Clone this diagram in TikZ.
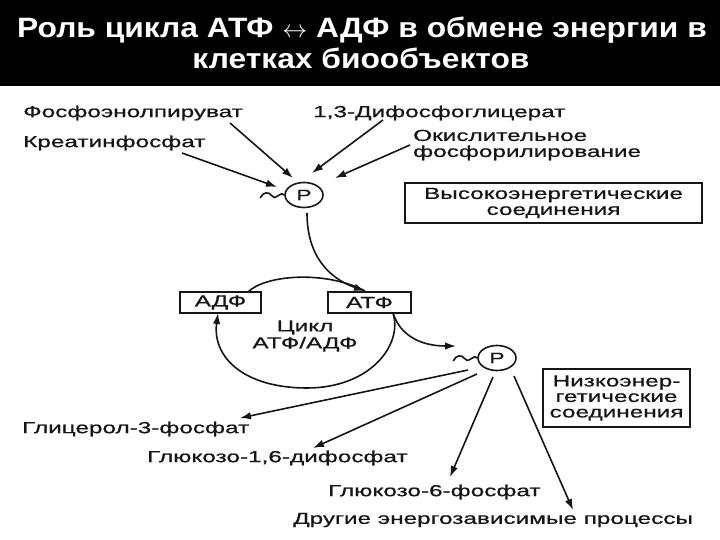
\documentclass[tikz,border=0pt]{standalone}
\usepackage{fontspec}
\setmainfont{Liberation Sans}[FakeStretch=1.52,FakeBold=0.8]
\newfontfamily\titlefont{Liberation Sans}[FakeStretch=1.135]
\usetikzlibrary{arrows.meta,shapes.geometric}
\definecolor{ink}{HTML}{161616}
\begin{document}
\begin{tikzpicture}[x=1pt,y=-1pt,
  lbl/.style={font=\fontsize{16}{16}\selectfont, text=ink, inner sep=0pt, anchor=west, align=left},
  box/.style={draw=ink, line width=1.6pt, inner sep=0pt, font=\fontsize{16}{16}\selectfont, text=ink, align=center},
  phos/.style={ellipse, draw=ink, line width=1.6pt, minimum width=38pt, minimum height=25pt, inner sep=0pt, font=\fontsize{15}{15}\selectfont, text=ink},
  conn/.style={draw=ink, line width=1.6pt, -{Latex[length=11pt,width=7.5pt]}},
  plain/.style={draw=ink, line width=1.6pt},
  ttl/.style={text=white, font=\titlefont\bfseries\fontsize{28}{31}\selectfont, anchor=base, inner sep=0pt}]
\useasboundingbox (0,0) rectangle (720,540);
\fill[white] (0,0) rectangle (720,540);
\fill[black] (0,0) rectangle (720,86);
\node[ttl] (t1) at (362,38) {Роль цикла АТФ $\leftrightarrow$ АДФ в обмене энергии в};
\node[ttl] (t2) at (361,69) {клетках биообъектов};

% top labels
\node[lbl] (fep) at (23,113) {Фосфоэнолпируват};
\node[lbl] (kf) at (23,143) {Креатинфосфат};
\node[lbl] (dfg) at (313,113) {1,3-Дифосфоглицерат};
\node[lbl] (ox) at (413,145) {Окислительное\\фосфорилирование};
\node[box, minimum width=297pt, minimum height=40pt] (hi) at (553.5,203) {Высокоэнергетические\\соединения};

\node[phos] (topP) at (304,195) {P};
\draw[plain] (topP.west) .. controls +(-3,-5) and +(4,5) .. ++(-12,1) .. controls +(-4,-5) and +(3,-6) .. ++(-12,2);

\coordinate (fepS) at (230,123); \coordinate (fepE) at (293,178);
\coordinate (dfgS) at (383,120); \coordinate (dfgE) at (312,173);
\coordinate (kfS) at (182,153);  \coordinate (kfE) at (277,187);
\coordinate (oxS) at (410,145);  \coordinate (oxE) at (335,178);
\draw[conn] (fepS) -- (fepE);
\draw[conn] (dfgS) -- (dfgE);
\draw[conn] (kfS) -- (kfE);
\draw[conn] (oxS) -- (oxE);

% cycle
\node[box, minimum width=81pt, minimum height=21pt] (adf) at (220.5,302.5) {АДФ};
\node[box, minimum width=83pt, minimum height=21pt] (atf) at (369.5,302.5) {АТФ};
\node[lbl, anchor=center, align=center, font=\fontsize{16}{17}\selectfont] (cyc) at (305,336) {Цикл\\АТФ/АДФ};

\coordinate (pTop) at (307,213);
\coordinate (atfIn) at (365,291);
\coordinate (adfOut) at (248,292);
\coordinate (atfOut) at (393,313);
\coordinate (adfIn) at (218,313);
\draw[plain] (adfOut) .. controls (265,275) and (325,270) .. (atfIn);
\draw[conn] (pTop) .. controls (307,255) and (328,278) .. (atfIn);
\draw[conn] (atfOut) .. controls (403,345) and (370,388) .. (307,388) .. controls (245,388) and (212,358) .. (adfIn);

% low P
\node[phos] (lowP) at (497,358) {P};
\draw[plain] (lowP.west) .. controls +(-3,-5) and +(4,5) .. ++(-12,1) .. controls +(-4,-5) and +(3,-6) .. ++(-12,2);
\coordinate (tilIn) at (456,346);
\draw[conn] (atfOut) .. controls (400,335) and (420,346) .. (tilIn);

\node[box, minimum width=147pt, minimum height=58pt, font=\fontsize{16}{15.5}\selectfont] (lo) at (616.5,398) {Низкоэнер-\\гетические\\соединения};

\node[lbl] (g3f) at (22,429) {Глицерол-3-фосфат};
\node[lbl] (g16) at (147,458) {Глюкозо-1,6-дифосфат};
\node[lbl] (g6f) at (328,492) {Глюкозо-6-фосфат};
\node[lbl] (oth) at (293,520) {Другие энергозависимые процессы};

\coordinate (s1) at (468,370); \coordinate (e1) at (240,418);
\coordinate (s2) at (477,374); \coordinate (e2) at (313,448);
\coordinate (s3) at (493,377); \coordinate (e3) at (450,477);
\coordinate (s4) at (514,376); \coordinate (e4) at (573,510);
\draw[conn] (s1) -- (e1);
\draw[conn] (s2) -- (e2);
\draw[conn] (s3) -- (e3);
\draw[conn] (s4) -- (e4);
\end{tikzpicture}
\end{document}
